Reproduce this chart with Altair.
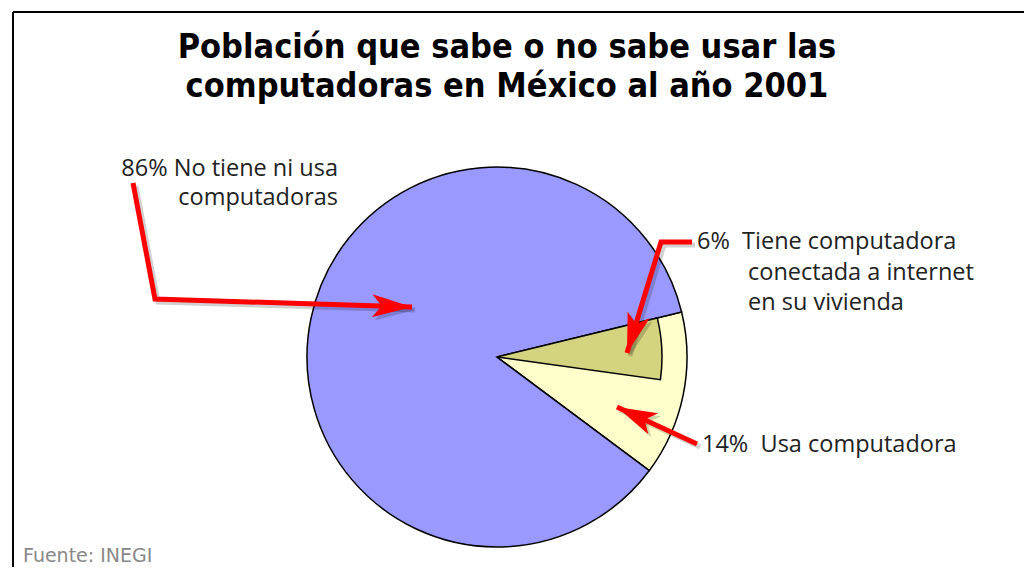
import math
import altair as alt
import pandas as pd
import numpy as np

# ---- data ----
slice_labels = ["Usa computadora", "No tiene ni usa computadoras"]
slice_values = [14, 86]
slice_colors = ["#FFFFCC", "#9999FF"]

inner_labels = ["Tiene computadora conectada a internet", "resto"]
inner_values = [6, 94]

title_lines = ["Población que sabe o no sabe usar las",
               "computadoras en México al año 2001"]

NBSP = "\u00a0"
label_right_text = ["86% No tiene ni usa", "computadoras"]
label_left_text = ["6%" + NBSP + NBSP + "Tiene computadora", "conectada a internet", "en su vivienda",
                   "14%" + NBSP + NBSP + "Usa computadora"]
source_text = "Fuente: INEGI"

# annotation positions (page pixel coordinates)
label_right_x = [338, 338]
label_right_y = [176, 205]
label_left_x = [697, 748, 748, 702]
label_left_y = [249, 280, 310, 452]

arrow_id = [1, 1, 1, 2, 2, 2, 3, 3]
arrow_order = [0, 1, 2, 0, 1, 2, 0, 1]
arrow_x = [133, 155, 412, 692, 661, 627, 697, 617]
arrow_y = [183, 299, 307, 242, 242, 353, 444, 407]

W, H = 1016, 559
CX, CY = 497 - 8, 357 - 8
R_OUT, R_IN = 190, 165
START = math.radians(76.3)

xs = alt.Scale(domain=[8, 8 + W], range=[0, W])
ys = alt.Scale(domain=[8, 8 + H], range=[0, H])

pie_df = pd.DataFrame({"label": slice_labels, "value": slice_values,
                       "color": slice_colors, "ord": [0, 1]})
inner_df = pd.DataFrame({"label": inner_labels, "value": inner_values, "ord": [0, 1]})

theta_scale = alt.Scale(range=[START, START + 2 * math.pi])

pie = alt.Chart(pie_df).mark_arc(radius=R_OUT, x=CX, y=CY, stroke="#000000",
                                 strokeWidth=1.5).encode(
    theta=alt.Theta("value:Q", stack=True, scale=theta_scale),
    order=alt.Order("ord:Q"),
    color=alt.Color("color:N", scale=None),
)

inner = alt.Chart(inner_df).mark_arc(radius=R_IN, x=CX, y=CY).encode(
    theta=alt.Theta("value:Q", stack=True, scale=theta_scale),
    order=alt.Order("ord:Q"),
    fill=alt.condition(alt.datum.ord == 0, alt.value("#D4D480"), alt.value("transparent")),
    stroke=alt.condition(alt.datum.ord == 0, alt.value("#000000"), alt.value("transparent")),
    strokeWidth=alt.value(1.5),
)

# border
border_df = pd.DataFrame({"x": [13, 13], "y": [12, 12], "x2": [8 + W, 13], "y2": [12, 8 + H]})
border = alt.Chart(border_df).mark_rule(color="#000000", strokeWidth=2).encode(
    x=alt.X("x:Q", scale=xs, axis=None), y=alt.Y("y:Q", scale=ys, axis=None),
    x2="x2:Q", y2="y2:Q")

arrows_df = pd.DataFrame({"id": arrow_id, "ord": arrow_order, "x": arrow_x, "y": arrow_y})
shadow_df = arrows_df.assign(x=arrows_df.x + 3, y=arrows_df.y + 3)

shafts_shadow = alt.Chart(shadow_df).mark_line(color="#000000", opacity=0.18, strokeWidth=5,
                                               strokeJoin="miter").encode(
    x=alt.X("x:Q", scale=xs, axis=None), y=alt.Y("y:Q", scale=ys, axis=None),
    detail="id:N", order="ord:Q")
shafts = alt.Chart(arrows_df).mark_line(color="#FF0000", strokeWidth=5,
                                        strokeJoin="miter").encode(
    x=alt.X("x:Q", scale=xs, axis=None), y=alt.Y("y:Q", scale=ys, axis=None),
    detail="id:N", order="ord:Q")

# arrowheads: at last point of each arrow, rotated along last segment
heads = []
for aid in sorted(set(arrow_id)):
    pts = arrows_df[arrows_df.id == aid].sort_values("ord")
    x1, y1 = pts.x.iloc[-2], pts.y.iloc[-2]
    x2, y2 = pts.x.iloc[-1], pts.y.iloc[-1]
    ang = math.degrees(math.atan2(x2 - x1, -(y2 - y1))) % 360
    heads.append({"id": aid, "x": x2, "y": y2, "angle": ang})
heads_df = pd.DataFrame(heads)
head_path = "M0,0 L1.1,3.8 L0,2.9 L-1.1,3.8 Z"
heads_shadow_df = heads_df.assign(x=heads_df.x + 3, y=heads_df.y + 3)
arrowheads_shadow = alt.Chart(heads_shadow_df).mark_point(shape=head_path, filled=True, color="#000000",
                                                          opacity=0.18, size=440, strokeWidth=0).encode(
    x=alt.X("x:Q", scale=xs, axis=None), y=alt.Y("y:Q", scale=ys, axis=None),
    angle=alt.Angle("angle:Q", scale=None))
arrowheads = alt.Chart(heads_df).mark_point(shape=head_path, filled=True, color="#FF0000",
                                            opacity=1, size=440, strokeWidth=0).encode(
    x=alt.X("x:Q", scale=xs, axis=None), y=alt.Y("y:Q", scale=ys, axis=None),
    angle=alt.Angle("angle:Q", scale=None))

title_df = pd.DataFrame({"t": title_lines, "x": [507, 507], "y": [58, 97]})
title = alt.Chart(title_df).mark_text(font="DejaVu Sans Condensed", fontWeight="bold",
                                      fontSize=34, align="center", baseline="alphabetic",
                                      color="#000000").encode(
    x=alt.X("x:Q", scale=xs, axis=None), y=alt.Y("y:Q", scale=ys, axis=None), text="t:N")

lr_df = pd.DataFrame({"t": label_right_text, "x": label_right_x, "y": label_right_y})
lab_r = alt.Chart(lr_df).mark_text(font="Open Sans", fontSize=23.5, align="right",
                                   baseline="alphabetic", color="#222222").encode(
    x=alt.X("x:Q", scale=xs, axis=None), y=alt.Y("y:Q", scale=ys, axis=None), text="t:N")

ll_df = pd.DataFrame({"t": label_left_text, "x": label_left_x, "y": label_left_y})
lab_l = alt.Chart(ll_df).mark_text(font="Open Sans", fontSize=23.5, align="left",
                                   baseline="alphabetic", color="#222222").encode(
    x=alt.X("x:Q", scale=xs, axis=None), y=alt.Y("y:Q", scale=ys, axis=None), text="t:N")

src_df = pd.DataFrame({"t": [source_text], "x": [23], "y": [562]})
src = alt.Chart(src_df).mark_text(font="DejaVu Sans", fontSize=19, align="left",
                                  baseline="alphabetic", color="#888888").encode(
    x=alt.X("x:Q", scale=xs, axis=None), y=alt.Y("y:Q", scale=ys, axis=None), text="t:N")

chart = alt.layer(border, pie, inner, shafts_shadow, arrowheads_shadow, shafts, arrowheads,
                  title, lab_r, lab_l, src).resolve_scale(
    theta="independent").properties(
    width=W, height=H, autosize=alt.AutoSizeParams(type="none"), padding=0,
    background="#FFFFFF").configure_view(stroke=None)

chart.save("out.html", embed_options={"renderer": "svg", "actions": False})
